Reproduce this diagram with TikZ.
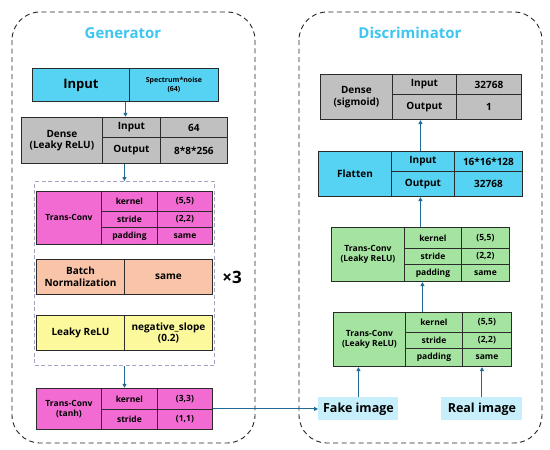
\documentclass[tikz,border=0pt]{standalone}
\usepackage{fontspec}
\setmainfont{Open Sans}
\usetikzlibrary{fit,arrows.meta}

\definecolor{titleblue}{HTML}{3EC6F0}
\definecolor{cyanbox}{HTML}{56D3F2}
\definecolor{graybox}{HTML}{C0C0C0}
\definecolor{pinkbox}{HTML}{F26BD2}
\definecolor{salmonbox}{HTML}{F9C4A8}
\definecolor{yellowbox}{HTML}{FCF89C}
\definecolor{greenbox}{HTML}{A4E4A0}
\definecolor{imagebox}{HTML}{C6EEFB}
\definecolor{flowblue}{HTML}{1F6B95}
\definecolor{cellline}{HTML}{2B2B2B}

\tikzset{
  cell/.style={draw=cellline, line width=0.9pt, inner sep=0pt, anchor=north west,
    align=center, font=\bfseries\fontsize{10}{11.5}\selectfont},
  sz/.style 2 args={minimum width=#1pt, minimum height=#2pt},
  small/.style={font=\bfseries\fontsize{8.5}{10}\selectfont},
  flow/.style={draw=flowblue, line width=1pt, -{Triangle[length=4pt,width=4pt]}},
  outer/.style={draw=black!85, line width=0.9pt, dash pattern=on 5pt off 3.5pt, rounded corners=28pt},
  group/.style={draw=gray!80!blue!60, line width=1pt, dash pattern=on 4pt off 2.5pt,
    inner sep=0pt, anchor=north west},
  title/.style={text=titleblue, font=\bfseries\fontsize{15}{18}\selectfont}
}

\begin{document}
\begin{tikzpicture}[x=1pt,y=-1pt]
\useasboundingbox (0,0) rectangle (550,450);

% outer frames
\draw[outer] (12,12) rectangle (255,443);
\draw[outer] (299,12) rectangle (542,443);
\node[title] (gtitle) at (123,33) {Generator};
\node[title] (dtitle) at (410,33) {Discriminator};

% generator
\node[cell, fill=cyanbox, sz={97}{33}, font=\bfseries\fontsize{13}{15}\selectfont] (ginl) at (32,68) {Input};
\node[cell, fill=cyanbox, sz={89}{33}, font=\bfseries\fontsize{7}{9}\selectfont] (ginr) at (129,68) {Spectrum*noise\\(64)};
\node[fit=(ginl)(ginr), inner sep=0pt] (gin) {};

\node[cell, fill=graybox, sz={81}{46}] (gdenl) at (21,117) {Dense\\(Leaky ReLU)};
\node[cell, fill=graybox, sz={58}{20}] (gdeni) at (102,117) {Input};
\node[cell, fill=graybox, sz={67}{20}] (gdenj) at (160,117) {64};
\node[cell, fill=graybox, sz={58}{26}] (gdeno) at (102,137) {Output};
\node[cell, fill=graybox, sz={67}{26}] (gdenp) at (160,137) {8*8*256};
\node[fit=(gdenl)(gdenp), inner sep=0pt] (gden) {};

\node[group, sz={180}{184}] (grp) at (34,181) {};

\node[cell, small, fill=pinkbox, sz={65}{53}] (gtcl) at (36,191) {Trans-Conv};
\node[cell, small, fill=pinkbox, sz={56}{20}] (gtck) at (101,191) {kernel};
\node[cell, small, fill=pinkbox, sz={55}{20}] (gtckv) at (157,191) {(5,5)};
\node[cell, small, fill=pinkbox, sz={56}{16}] (gtcs) at (101,211) {stride};
\node[cell, small, fill=pinkbox, sz={55}{16}] (gtcsv) at (157,211) {(2,2)};
\node[cell, small, fill=pinkbox, sz={56}{17}] (gtcp) at (101,227) {padding};
\node[cell, small, fill=pinkbox, sz={55}{17}] (gtcpv) at (157,227) {same};

\node[cell, fill=salmonbox, sz={88}{35}] (gbnl) at (36,259) {Batch\\Normalization};
\node[cell, fill=salmonbox, sz={88}{35}] (gbnr) at (124,259) {same};

\node[cell, fill=yellowbox, sz={88}{35}] (glrl) at (36,315) {Leaky ReLU};
\node[cell, fill=yellowbox, sz={88}{35}] (glrr) at (124,315) {negative\_slope\\(0.2)};

\node[font=\bfseries\fontsize{17}{19}\selectfont] (times) at (232,277) {×3};

\node[cell, small, fill=pinkbox, sz={65}{41}] (gtanhl) at (36,388) {Trans-Conv\\(tanh)};
\node[cell, small, fill=pinkbox, sz={56}{21}] (gtanhk) at (101,388) {kernel};
\node[cell, small, fill=pinkbox, sz={55}{21}] (gtanhkv) at (157,388) {(3,3)};
\node[cell, small, fill=pinkbox, sz={56}{20}] (gtanhs) at (101,409) {stride};
\node[cell, small, fill=pinkbox, sz={55}{20}] (gtanhsv) at (157,409) {(1,1)};
\node[fit=(gtanhl)(gtanhsv), inner sep=0pt] (gtanh) {};

% discriminator
\node[cell, fill=graybox, sz={72}{45}] (ddenl) at (320,74) {Dense\\(sigmoid)};
\node[cell, fill=graybox, sz={64}{20}] (ddeni) at (392,74) {Input};
\node[cell, fill=graybox, sz={65}{20}] (ddenj) at (456,74) {32768};
\node[cell, fill=graybox, sz={64}{25}] (ddeno) at (392,94) {Output};
\node[cell, fill=graybox, sz={65}{25}] (ddenp) at (456,94) {1};
\node[fit=(ddenl)(ddenp), inner sep=0pt] (dden) {};

\node[cell, fill=cyanbox, sz={73}{45}] (dflatl) at (318,151) {Flatten};
\node[cell, fill=cyanbox, sz={63}{20}] (dflati) at (391,151) {Input};
\node[cell, fill=cyanbox, sz={68}{20}] (dflatj) at (454,151) {16*16*128};
\node[cell, fill=cyanbox, sz={63}{25}] (dflato) at (391,171) {Output};
\node[cell, fill=cyanbox, sz={68}{25}] (dflatp) at (454,171) {32768};
\node[fit=(dflatl)(dflatp), inner sep=0pt] (dflat) {};

\node[cell, small, fill=greenbox, sz={73}{54}] (dtcbl) at (331,227) {Trans-Conv\\(Leaky ReLU)};
\node[cell, small, fill=greenbox, sz={57}{21}] (dtcbk) at (404,227) {kernel};
\node[cell, small, fill=greenbox, sz={48}{21}] (dtcbkv) at (461,227) {(5,5)};
\node[cell, small, fill=greenbox, sz={57}{16}] (dtcbs) at (404,248) {stride};
\node[cell, small, fill=greenbox, sz={48}{16}] (dtcbsv) at (461,248) {(2,2)};
\node[cell, small, fill=greenbox, sz={57}{17}] (dtcbp) at (404,264) {padding};
\node[cell, small, fill=greenbox, sz={48}{17}] (dtcbpv) at (461,264) {same};
\node[fit=(dtcbl)(dtcbpv), inner sep=0pt] (dtcb) {};

\node[cell, small, fill=greenbox, sz={72}{54}] (dtcal) at (333,312) {Trans-Conv\\(Leaky ReLU)};
\node[cell, small, fill=greenbox, sz={57}{20}] (dtcak) at (405,312) {kernel};
\node[cell, small, fill=greenbox, sz={49}{20}] (dtcakv) at (462,312) {(5,5)};
\node[cell, small, fill=greenbox, sz={57}{16}] (dtcas) at (405,332) {stride};
\node[cell, small, fill=greenbox, sz={49}{16}] (dtcasv) at (462,332) {(2,2)};
\node[cell, small, fill=greenbox, sz={57}{18}] (dtcap) at (405,348) {padding};
\node[cell, small, fill=greenbox, sz={49}{18}] (dtcapv) at (462,348) {same};
\node[fit=(dtcal)(dtcapv), inner sep=0pt] (dtca) {};

\node[cell, draw=none, fill=imagebox, sz={80}{23}, font=\bfseries\fontsize{12.5}{14}\selectfont] (fake) at (318,397) {Fake image};
\node[cell, draw=none, fill=imagebox, sz={81}{23}, font=\bfseries\fontsize{12.5}{14}\selectfont] (real) at (441,397) {Real image};

% connectors
\draw[flow] (gin.south) -- (gin.south |- gden.north);
\draw[flow] (gden.south) -- (gden.south |- grp.north);
\draw[flow] (grp.south) -- (grp.south |- gtanh.north);
\draw[flow] (gtanh.east) -- (fake.west);
\draw[flow] (fake.north) -- (fake.north |- dtca.south);
\draw[flow] (real.north) -- (real.north |- dtca.south);
\draw[flow] (dtca.north) -- (dtca.north |- dtcb.south);
\draw[flow] (dtcb.north) -- (dtcb.north |- dflat.south);
\draw[flow] (dflat.north) -- (dflat.north |- dden.south);
\end{tikzpicture}
\end{document}
